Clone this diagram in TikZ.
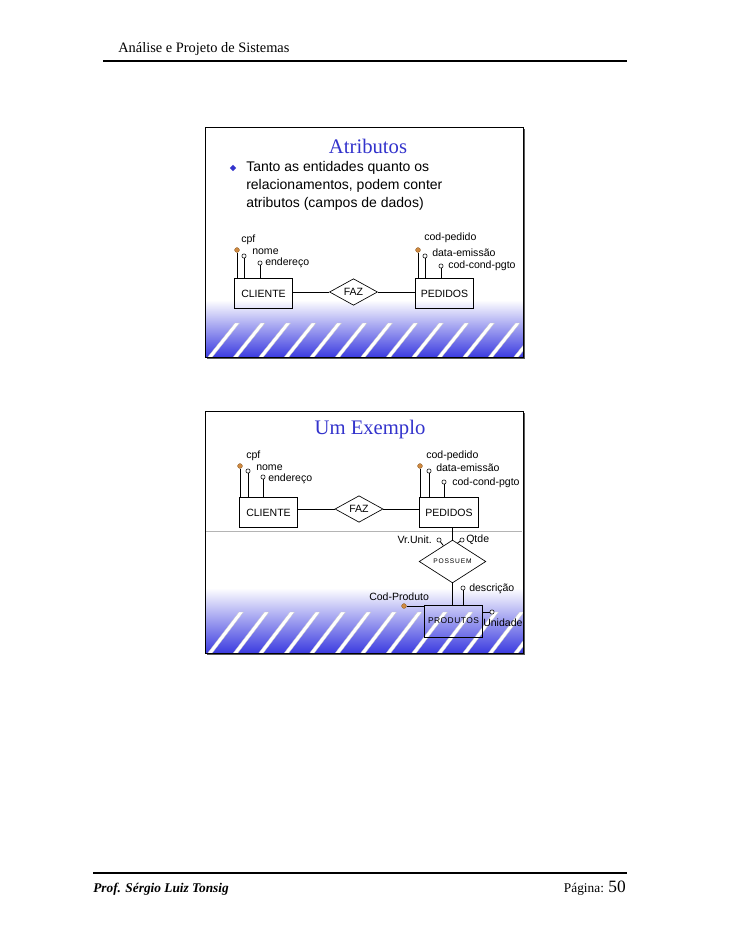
\documentclass[tikz,border=0pt]{standalone}
\usepackage{fontspec}
\setmainfont{Liberation Serif}
\setsansfont{Liberation Sans}
\usetikzlibrary{shapes.geometric,calc}
\definecolor{titleblue}{HTML}{3333CC}
\definecolor{bandblue}{HTML}{3C3CE0}
\definecolor{keyorange}{HTML}{D08A40}
\definecolor{shadowgrey}{HTML}{5A5A5A}
\definecolor{rulegrey}{HTML}{B4B4B4}
\newcommand{\erfont}{\fontsize{7.9}{9}\selectfont\sffamily}
\newcommand{\smallerfont}{\fontsize{5}{6}\selectfont\sffamily\addfontfeature{LetterSpace=12}}

\begin{document}
\begin{tikzpicture}[x=0.75pt,y=-0.75pt,
  ent/.style={draw,line width=0.6pt,minimum width=44pt,minimum height=23pt,inner sep=0pt,font=\erfont},
  rel/.style={draw,diamond,line width=0.5pt,fill=white,minimum width=36pt,minimum height=14pt,inner sep=0pt,font=\erfont},
  attr/.style={circle,draw,line width=0.4pt,fill=white,minimum size=3.2pt,inner sep=0pt},
  keyattr/.style={circle,draw=keyorange!70!black,line width=0.3pt,fill=keyorange,minimum size=3.6pt,inner sep=0pt},
  lbl/.style={anchor=west,inner sep=0pt,font=\erfont},
  stem/.style={line width=0.6pt},
  slash/.style={fill=white,draw=gray!45,line width=0.2pt},
  slidetitle/.style={text=titleblue,inner sep=0pt,font=\fontsize{15.5}{18}\selectfont}]
  \useasboundingbox (0,0) rectangle (728,942);

  % page header and footer
  \node[anchor=base west,inner sep=0pt,font=\fontsize{10.8}{13}\selectfont] (head) at (118,53) {Análise e Projeto de Sistemas};
  \draw[line width=0.8pt] (103,61) -- (627,61);
  \draw[line width=0.8pt] (93,873) -- (627,873);
  \node[anchor=base west,inner sep=0pt,font=\fontsize{10}{12}\selectfont\bfseries\itshape] (prof) at (93,892) {Prof. Sérgio Luiz Tonsig};
  \node[anchor=base east,inner sep=0pt,font=\fontsize{10}{12}\selectfont] (pag) at (626,892) {Página: {\fontsize{13}{15}\selectfont 50}};

  % slide 1
  \fill[shadowgrey] (207,129) rectangle (525,359);
  \fill[white] (205,127) rectangle (523,357);
  \begin{scope}
    \clip (205,127) rectangle (523,357);
    \shade[top color=white,bottom color=bandblue] (205,300) rectangle (523,357);
    \foreach \k [evaluate=\k as \xs using 207+25.5*\k] in {0,...,12}
      \filldraw[slash] (\xs,358) -- (\xs+4.5,358) -- (\xs+32.5,323) -- (\xs+28,323) -- cycle;
  \end{scope}
  \draw[line width=0.5pt] (205,127) rectangle (523,357);

  \node[slidetitle] (tit1) at (368,146) {Atributos};
  \node[diamond,fill=titleblue,minimum size=5pt,inner sep=0pt] (bul1) at (233,168) {};
  \node[anchor=north west,align=left,inner sep=0pt,font=\fontsize{10.5}{13.4}\selectfont\sffamily] (txt1) at (246,161)
    {Tanto as entidades quanto os\\relacionamentos, podem conter\\atributos (campos de dados)};

  \node[ent] (cli1) at (263.5,293.5) {CLIENTE};
  \node[ent] (ped1) at (444.5,293.5) {PEDIDOS};
  \node[rel] (faz1) at (353.5,292) {FAZ};
  \draw[stem] (cli1.east |- faz1) -- (faz1.west);
  \draw[stem] (faz1.east) -- (ped1.west |- faz1);

  \node[keyattr] (cpf1) at (237,250) {};
  \node[attr] (nome1) at (244,256) {};
  \node[attr] (end1) at (260,263) {};
  \node[lbl] (cpf1t) at (241,240) {cpf};
  \node[lbl] (nome1t) at (252,252) {nome};
  \node[lbl] (end1t) at (265,263) {endereço};
  \foreach \a in {cpf1,nome1,end1}
    \draw[stem] (\a.south) -- (\a.south |- cli1.north);

  \node[keyattr] (codp1) at (418,250) {};
  \node[attr] (dtem1) at (425,256) {};
  \node[attr] (ccp1) at (441,266) {};
  \node[lbl] (codp1t) at (424,238) {cod-pedido};
  \node[lbl] (dtem1t) at (432,253) {data-emissão};
  \node[lbl] (ccp1t) at (448,266) {cod-cond-pgto};
  \foreach \a in {codp1,dtem1,ccp1}
    \draw[stem] (\a.south) -- (\a.south |- ped1.north);

  % slide 2
  \fill[shadowgrey] (207,413) rectangle (525,655);
  \fill[white] (205,411) rectangle (523,653);
  \begin{scope}
    \clip (205,411) rectangle (523,653);
    \shade[top color=white,bottom color=bandblue] (205,588) rectangle (523,653);
    \foreach \k [evaluate=\k as \xs using 207+25.5*\k] in {0,...,12}
      \filldraw[slash] (\xs,654) -- (\xs+4.5,654) -- (\xs+36.5,612) -- (\xs+32,612) -- cycle;
  \end{scope}
  \draw[line width=0.5pt] (205,411) rectangle (523,653);
  \draw[rulegrey,line width=0.6pt] (206,531) -- (522,531);

  \node[slidetitle] (tit2) at (370,430) {Um Exemplo};

  \node[ent] (cli2) at (268.5,512.5) {CLIENTE};
  \node[ent] (ped2) at (449,512.5) {PEDIDOS};
  \node[rel,minimum height=16.5pt] (faz2) at (359,509) {FAZ};
  \draw[stem] (cli2.east |- faz2) -- (faz2.west);
  \draw[stem] (faz2.east) -- (ped2.west |- faz2);

  \node[keyattr] (cpf2) at (240,466) {};
  \node[attr] (nome2) at (248,471) {};
  \node[attr] (end2) at (263,477) {};
  \node[lbl] (cpf2t) at (246,456) {cpf};
  \node[lbl] (nome2t) at (256,468) {nome};
  \node[lbl] (end2t) at (268,479) {endereço};
  \foreach \a in {cpf2,nome2,end2}
    \draw[stem] (\a.south) -- (\a.south |- cli2.north);

  \node[keyattr] (codp2) at (420,466) {};
  \node[attr] (dtem2) at (429,471) {};
  \node[attr] (ccp2) at (444,482) {};
  \node[lbl] (codp2t) at (426,456) {cod-pedido};
  \node[lbl] (dtem2t) at (436,468) {data-emissão};
  \node[lbl] (ccp2t) at (452,483) {cod-cond-pgto};
  \foreach \a in {codp2,dtem2,ccp2}
    \draw[stem] (\a.south) -- (\a.south |- ped2.north);

  \node[rel,minimum width=50pt,minimum height=22pt,font=\smallerfont] (pos1) at (452.5,561.5) {POSSUEM};
  \node[ent,minimum height=24pt,font=\fontsize{6.3}{8}\selectfont\sffamily\addfontfeature{LetterSpace=6}] (prod) at (453.5,621) {PRODUTOS};
  \draw[stem] (pos1.north |- ped2.south) -- (pos1.north);
  \draw[stem] (pos1.south) -- (pos1.south |- prod.north);

  \node[attr] (vru) at (439,540) {};
  \node[attr] (qtd) at (462,540) {};
  \node[lbl,anchor=east] (vrut) at (432,540) {Vr.Unit.};
  \node[lbl] (qtdt) at (466,540) {Qtde};
  \draw[stem] (vru) -- ($(pos1.west)!0.73!(pos1.north)$);
  \draw[stem] (qtd) -- ($(pos1.east)!0.85!(pos1.north)$);

  \node[attr] (desc) at (463,588) {};
  \node[lbl] (desct) at (469,589) {descrição};
  \draw[stem] (desc.south) -- (desc.south |- prod.north);

  \node[keyattr] (codpr) at (404,606) {};
  \node[lbl] (codprt) at (369,597) {Cod-Produto};
  \draw[stem] (codpr) -- (codpr -| prod.west);

  \node[attr] (uni) at (492,612) {};
  \node[lbl] (unit) at (483,623) {Unidade};
  \draw[stem] (prod.east |- uni) -- (uni);
\end{tikzpicture}
\end{document}
